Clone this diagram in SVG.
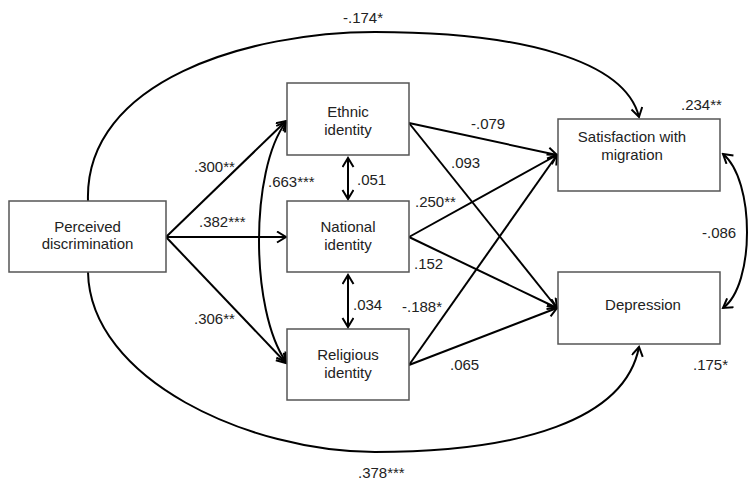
<svg xmlns="http://www.w3.org/2000/svg" width="750" height="484" viewBox="0 0 750 484">
<style>
.box{fill:#fff;stroke:#555;stroke-width:1.5}
.t{font-family:"Liberation Sans",Arial,sans-serif;font-size:15px;fill:#222;text-anchor:middle}
.l{font-family:"Liberation Sans",Arial,sans-serif;font-size:15px;fill:#222}
.e{fill:none;stroke:#000;stroke-width:2}
</style>
<defs>
<marker id="a" markerUnits="userSpaceOnUse" markerWidth="12" markerHeight="14" refX="10" refY="6" orient="auto-start-reverse" viewBox="0 0 12 14">
<path d="M1,0.5 L10,6 L1,11.5" fill="none" stroke="#000" stroke-width="2"/>
</marker>
</defs>
<rect width="750" height="484" fill="#fff"/>
<g id="connectors">
<path class="e" d="M88,201 C84,80 250,32 375,32 C520,32 625,60 639,117" marker-end="url(#a)"/>
<path class="e" d="M88,272 C90,380 250,452 375,452 C520,452 625,420 639,347" marker-end="url(#a)"/>
<line class="e" x1="166" y1="237" x2="286" y2="121" marker-end="url(#a)"/>
<line class="e" x1="166" y1="237" x2="286" y2="237" marker-end="url(#a)"/>
<line class="e" x1="166" y1="237" x2="286" y2="363" marker-end="url(#a)"/>
<path class="e" d="M286,122 C250,170 250,310 286,362" marker-start="url(#a)" marker-end="url(#a)"/>
<line class="e" x1="348" y1="158" x2="348" y2="199" marker-start="url(#a)" marker-end="url(#a)"/>
<line class="e" x1="348" y1="275" x2="348" y2="327" marker-start="url(#a)" marker-end="url(#a)"/>
<line class="e" x1="409" y1="123" x2="557" y2="155" marker-end="url(#a)"/>
<line class="e" x1="409" y1="123" x2="557" y2="308" marker-end="url(#a)"/>
<line class="e" x1="409" y1="237" x2="557" y2="155" marker-end="url(#a)"/>
<line class="e" x1="409" y1="237" x2="557" y2="308" marker-end="url(#a)"/>
<line class="e" x1="409" y1="365" x2="557" y2="155" marker-end="url(#a)"/>
<line class="e" x1="409" y1="365" x2="557" y2="308" marker-end="url(#a)"/>
<path class="e" d="M723,154 C755,180 755,285 723,308" marker-start="url(#a)" marker-end="url(#a)"/>
</g>
<g id="labels">
<text class="l" x="343" y="23">-.174*</text>
<text class="l" x="681" y="110">.234**</text>
<text class="l" x="471" y="129">-.079</text>
<text class="l" x="451" y="168">.093</text>
<text class="l" x="357" y="185">.051</text>
<text class="l" x="415" y="207">.250**</text>
<text class="l" x="702" y="238">-.086</text>
<text class="l" x="414" y="269">.152</text>
<text class="l" x="353" y="310">.034</text>
<text class="l" x="402" y="312">-.188*</text>
<text class="l" x="450" y="370">.065</text>
<text class="l" x="693" y="370">.175*</text>
<text class="l" x="358" y="478">.378***</text>
<text class="l" x="194" y="172">.300**</text>
<text class="l" x="268" y="187">.663***</text>
<text class="l" x="199" y="227">.382***</text>
<text class="l" x="194" y="324">.306**</text>
</g>
<g id="perceived">
<rect class="box" x="9" y="201" width="157" height="71"/>
<text class="t" x="87.5" y="232">Perceived</text>
<text class="t" x="87.5" y="249">discrimination</text>
</g>
<g id="ethnic">
<rect class="box" x="287" y="83" width="122" height="72"/>
<text class="t" x="348" y="117">Ethnic</text>
<text class="t" x="348" y="135">identity</text>
</g>
<g id="national">
<rect class="box" x="287" y="201" width="122" height="71"/>
<text class="t" x="348" y="232">National</text>
<text class="t" x="348" y="250">identity</text>
</g>
<g id="religious">
<rect class="box" x="287" y="329" width="122" height="71"/>
<text class="t" x="348" y="360">Religious</text>
<text class="t" x="348" y="378">identity</text>
</g>
<g id="satisfaction">
<rect class="box" x="558" y="119" width="162" height="72"/>
<text class="t" x="632" y="142">Satisfaction with</text>
<text class="t" x="632" y="160">migration</text>
</g>
<g id="depression">
<rect class="box" x="558" y="272" width="162" height="72"/>
<text class="t" x="643" y="310">Depression</text>
</g>
</svg>
